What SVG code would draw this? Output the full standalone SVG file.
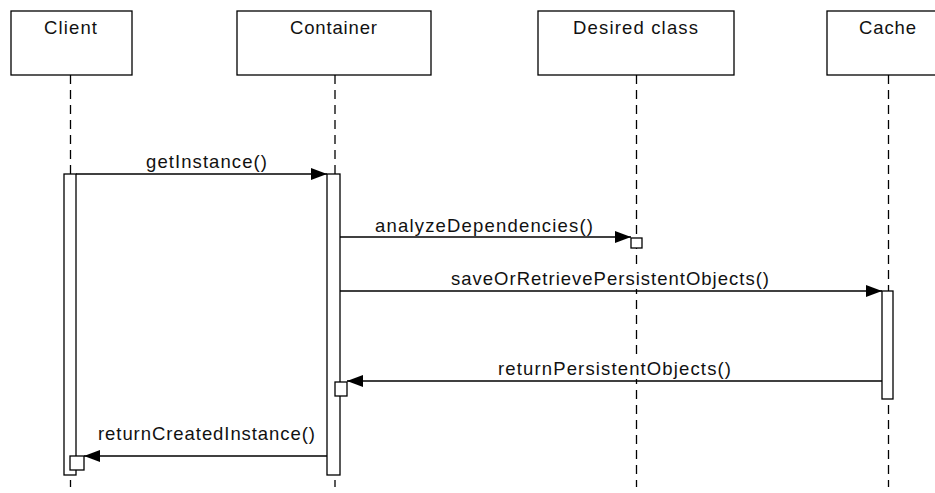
<svg xmlns="http://www.w3.org/2000/svg" width="935" height="493" viewBox="0 0 935 493">
<style>
.box{fill:#fff;stroke:#000;stroke-width:1.3}
.life{stroke:#000;stroke-width:1.3;stroke-dasharray:9 6;fill:none}
.bar{fill:#fff;stroke:#000;stroke-width:1.3}
.msg{stroke:#000;stroke-width:1.3;fill:none}
.bg{fill:#fff;stroke:none}
text{font-family:"Liberation Sans",Arial,sans-serif;font-size:18.5px;fill:#111}
.c{text-anchor:middle}
</style>
<defs>
<marker id="ah" viewBox="0 0 16 12" refX="16" refY="6" markerWidth="16" markerHeight="12" markerUnits="userSpaceOnUse" orient="auto">
<path d="M0,0 L16,6 L0,12 Z" fill="#000"/>
</marker>
</defs>
<rect width="935" height="493" fill="#fff"/>
<g id="client">
<rect class="box" x="11" y="11" width="121" height="64"/>
<text class="c" x="70.5" y="34" textLength="53" lengthAdjust="spacing">Client</text>
<line class="life" x1="70.5" y1="75" x2="70.5" y2="487"/>
<rect class="bar" x="64" y="174" width="12" height="301"/>
</g>
<g id="container">
<rect class="box" x="237" y="11" width="194" height="64"/>
<text class="c" x="333.5" y="34" textLength="87" lengthAdjust="spacing">Container</text>
<line class="life" x1="335" y1="75" x2="335" y2="487"/>
<rect class="bar" x="327" y="174" width="13" height="301"/>
</g>
<g id="desired">
<rect class="box" x="538" y="11" width="196" height="64"/>
<text class="c" x="635.5" y="34" textLength="125" lengthAdjust="spacing">Desired class</text>
<line class="life" x1="636.5" y1="75" x2="636.5" y2="487"/>
</g>
<g id="cache">
<rect class="box" x="827" y="11" width="130" height="64"/>
<text class="c" x="887.5" y="34" textLength="57" lengthAdjust="spacing">Cache</text>
<line class="life" x1="888.5" y1="75" x2="888.5" y2="487"/>
<rect class="bar" x="882" y="291" width="11" height="108"/>
</g>
<g id="connectors">
<line class="msg" x1="76" y1="174" x2="327" y2="174" marker-end="url(#ah)"/>
<text class="c" x="206.5" y="168" textLength="121" lengthAdjust="spacing">getInstance()</text>
<line class="msg" x1="340" y1="237" x2="631" y2="237" marker-end="url(#ah)"/>
<rect class="bar" x="631" y="238" width="11" height="10"/>
<text class="c" x="484" y="232" textLength="218" lengthAdjust="spacing">analyzeDependencies()</text>
<line class="msg" x1="340" y1="291" x2="882" y2="291" marker-end="url(#ah)"/>
<rect class="bg" x="450" y="266" width="320" height="23"/>
<text class="c" x="610" y="285" textLength="318" lengthAdjust="spacing">saveOrRetrievePersistentObjects()</text>
<line class="msg" x1="882" y1="381" x2="347" y2="381" marker-end="url(#ah)"/>
<rect class="bar" x="335" y="382" width="12" height="14"/>
<rect class="bg" x="497" y="356" width="236" height="23"/>
<text class="c" x="614.5" y="375" textLength="233" lengthAdjust="spacing">returnPersistentObjects()</text>
<line class="msg" x1="327" y1="456" x2="84" y2="456" marker-end="url(#ah)"/>
<rect class="bar" x="70" y="456" width="14" height="14"/>
<text class="c" x="206.5" y="440" textLength="217" lengthAdjust="spacing">returnCreatedInstance()</text>
</g>
</svg>
